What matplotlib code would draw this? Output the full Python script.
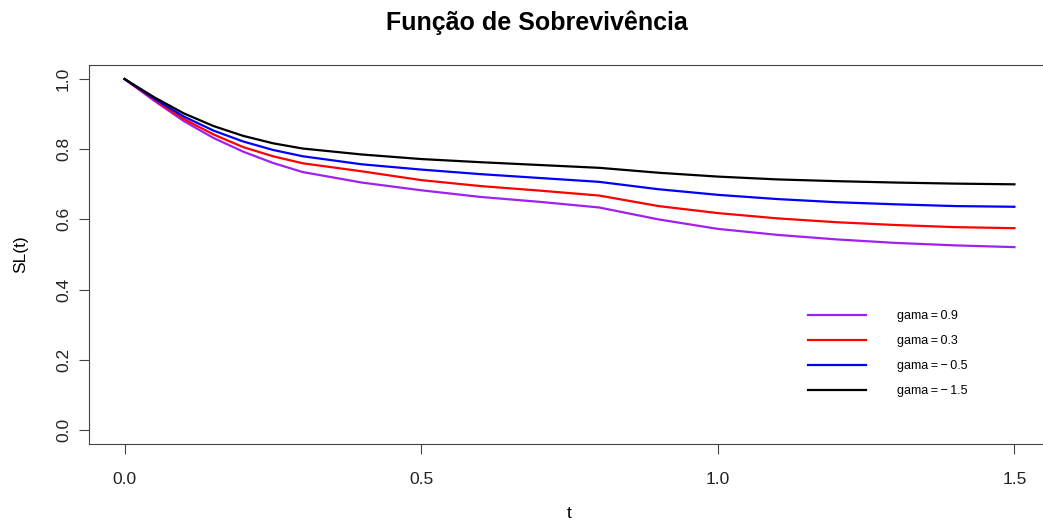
import numpy as np
import matplotlib
matplotlib.use("Agg")
import matplotlib.pyplot as plt

# survival curves, one per gamma value
t = [0.0, 0.05, 0.1, 0.15, 0.2, 0.25, 0.3, 0.4, 0.5, 0.6, 0.7, 0.8,
     0.9, 1.0, 1.1, 1.2, 1.3, 1.4, 1.5]
s_g09 = [1.0, 0.938, 0.880, 0.832, 0.793, 0.761, 0.735, 0.705, 0.683, 0.664,
         0.650, 0.634, 0.600, 0.573, 0.556, 0.543, 0.533, 0.526, 0.521]
s_g03 = [1.0, 0.941, 0.886, 0.842, 0.806, 0.780, 0.760, 0.737, 0.712, 0.695,
         0.682, 0.668, 0.638, 0.618, 0.603, 0.592, 0.584, 0.578, 0.575]
s_gm05 = [1.0, 0.944, 0.893, 0.853, 0.822, 0.798, 0.780, 0.757, 0.742, 0.729,
          0.718, 0.707, 0.686, 0.670, 0.658, 0.649, 0.643, 0.638, 0.636]
s_gm15 = [1.0, 0.948, 0.902, 0.866, 0.838, 0.817, 0.802, 0.785, 0.772, 0.763,
          0.755, 0.747, 0.733, 0.722, 0.714, 0.709, 0.705, 0.702, 0.700]

labels = ["gama\u2009=\u20090.9", "gama\u2009=\u20090.3",
          "gama\u2009=\u2009\u2212\u20090.5", "gama\u2009=\u2009\u2212\u20091.5"]
colors = ["#A020F0", "#FF0000", "#0000FF", "#000000"]

plt.rcParams['font.family'] = ['Liberation Sans', 'DejaVu Sans']

fig = plt.figure(figsize=(10.43, 5.21), dpi=100)
W, H = 1043, 521
ax = fig.add_axes([89 / W, (H - 444) / H, (1050 - 89) / W, (444 - 65) / H])

for s, c, lab in zip([s_g09, s_g03, s_gm05, s_gm15], colors, labels):
    ax.plot(t, s, color=c, lw=1.6, label=lab)

ax.set_xlim(-0.06, 1.56)
ax.set_ylim(-0.04, 1.04)
ax.set_xticks([0.0, 0.5, 1.0, 1.5])
ax.set_xticklabels(["0.0", "0.5", "1.0", "1.5"])
ax.set_yticks(np.arange(0, 1.01, 0.2))
ax.set_yticklabels(["0.0", "0.2", "0.4", "0.6", "0.8", "1.0"],
                   rotation=90, va="center")
for sp in ax.spines.values():
    sp.set_color("#444444")
ax.tick_params(axis="both", length=7, color="#444444", labelsize=12.5,
               labelcolor="#222222")
ax.tick_params(axis="x", pad=13)
ax.tick_params(axis="y", pad=6)

ax.set_xlabel("t", fontsize=12.5, labelpad=14)
ax.set_ylabel("SL(t)", fontsize=12.5, labelpad=20)
fig.text(537 / W, 1 - 23 / H, "Função de Sobrevivência", ha="center",
         va="center", fontsize=18, fontweight="bold")

ax.legend(loc="upper left", bbox_to_anchor=((803 - 89) / (1050 - 89), (444 - 305) / (444 - 65)),
          frameon=False, fontsize=9, handlelength=4.6, handletextpad=2.5,
          labelspacing=1.05, borderaxespad=0)

fig.savefig("out.png", dpi=100)
